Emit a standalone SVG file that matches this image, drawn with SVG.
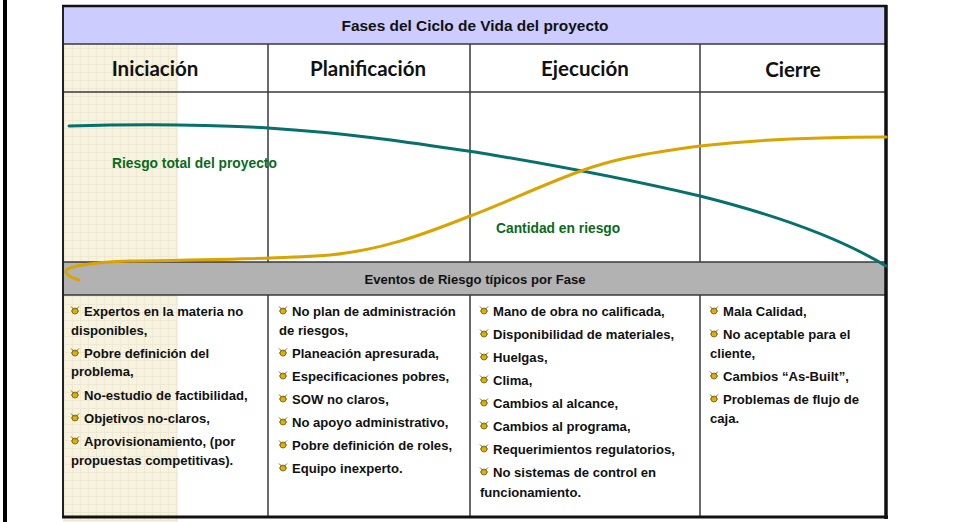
<svg xmlns="http://www.w3.org/2000/svg" width="956" height="522" viewBox="0 0 956 522">
<defs>
<style>
.hdr{font-family:Lato,"Open Sans","Liberation Sans",sans-serif;font-weight:bold;font-size:20.5px;fill:#111;text-anchor:middle}
.ttl{font-family:"Liberation Sans",Arial,sans-serif;font-weight:bold;font-size:15px;fill:#111;text-anchor:middle}
.lbl{font-family:"Liberation Sans",Arial,sans-serif;font-weight:bold;font-size:13.8px;fill:#0A6A1C}
.it{font-family:"Liberation Sans",Arial,sans-serif;font-weight:bold;font-size:13.1px;fill:#111}
.grid{stroke:#3a3a3a;stroke-width:1.5;fill:none}
.curve{fill:none;stroke-width:3;stroke-linecap:round}
</style>
<pattern id="tex" width="8" height="8" patternUnits="userSpaceOnUse">
<rect width="8" height="8" fill="#F8F3DE"/>
<path d="M0 0.5H8M0.5 0V8" stroke="#EEE9D5" stroke-width="1"/>
</pattern>
<symbol id="bul" viewBox="0 0 10 10">
<circle cx="5" cy="6" r="3" fill="#E2B000" stroke="#6b5a10" stroke-width="0.8"/>
<path d="M1 1.5L4 4.5M9 1.5L6 4.5M1 6H2M8 6H9" stroke="#6b5a10" stroke-width="0.9"/>
</symbol>
</defs>
<rect width="956" height="522" fill="#ffffff"/>
<rect x="3" y="0" width="4" height="522" fill="#000"/>

<g id="texture">
<rect x="63" y="44" width="115" height="478" fill="url(#tex)"/>
</g>

<g id="title">
<rect x="63" y="6" width="823" height="38" fill="#CCCCFF"/>
<text class="ttl" x="475" y="31" textLength="267" lengthAdjust="spacingAndGlyphs">Fases del Ciclo de Vida del proyecto</text>
</g>

<g id="phase-headers">
<text class="hdr" x="155" y="76">Iniciación</text>
<text class="hdr" x="368" y="76">Planificación</text>
<text class="hdr" x="585" y="76">Ejecución</text>
<text class="hdr" x="793" y="77">Cierre</text>
</g>

<g id="events-band">
<rect x="63" y="262" width="823" height="33" fill="#B2B2B2"/>
<text class="ttl" x="475" y="284" style="font-size:13px" textLength="221" lengthAdjust="spacingAndGlyphs">Eventos de Riesgo típicos por Fase</text>
</g>

<g id="grid">
<path class="grid" d="M63 44H886M63 92H886M63 262H886M63 295H886"/>
<path class="grid" d="M268 44V262M470 44V262M700 44V262M268 295V517M470 295V517M700 295V517"/>
<path d="M63 6V517" stroke="#222" stroke-width="2" fill="none"/>
<path d="M62 6H887" stroke="#111" stroke-width="2.5" fill="none"/>
<path d="M886 5V519" stroke="#111" stroke-width="3.5" fill="none"/>
<path d="M62 517H888" stroke="#111" stroke-width="3" fill="none"/>
</g>

<g id="connectors">
<path id="riesgo-total" class="curve" stroke="#05706C" d="M69 126C140 124 200 124 268 128C360 134 420 144 475 152C560 166 640 182 700 196C780 216 840 238 886 266"/>
<path id="cantidad" class="curve" stroke="#D9A300" d="M886 137C820 137 760 139 700 146C640 154 610 160 578 172C540 186 500 205 470 216C420 236 380 250 330 255C280 259 200 260 130 261C95 262 68 266 66 271C65 275 72 278 79 280"/>
</g>

<g id="chart-labels">
<text class="lbl" x="112" y="168">Riesgo total del proyecto</text>
<text class="lbl" x="496" y="233">Cantidad en riesgo</text>
</g>

<g id="col-iniciacion">
<use href="#bul" x="70" y="305" width="10" height="10"/><text class="it" x="84" y="316">Expertos en la materia no</text>
<text class="it" x="71" y="335">disponibles,</text>
<use href="#bul" x="70" y="347" width="10" height="10"/><text class="it" x="84" y="358">Pobre definición del</text>
<text class="it" x="71" y="376">problema,</text>
<use href="#bul" x="70" y="389" width="10" height="10"/><text class="it" x="84" y="400">No-estudio de factibilidad,</text>
<use href="#bul" x="70" y="412" width="10" height="10"/><text class="it" x="84" y="423">Objetivos no-claros,</text>
<use href="#bul" x="70" y="435" width="10" height="10"/><text class="it" x="84" y="446">Aprovisionamiento, (por</text>
<text class="it" x="71" y="465">propuestas competitivas).</text>
</g>

<g id="col-planificacion">
<use href="#bul" x="278" y="305" width="10" height="10"/><text class="it" x="292" y="316">No plan de administración</text>
<text class="it" x="279" y="335">de riesgos,</text>
<use href="#bul" x="278" y="347" width="10" height="10"/><text class="it" x="292" y="358">Planeación apresurada,</text>
<use href="#bul" x="278" y="370" width="10" height="10"/><text class="it" x="292" y="381">Especificaciones pobres,</text>
<use href="#bul" x="278" y="393" width="10" height="10"/><text class="it" x="292" y="404">SOW no claros,</text>
<use href="#bul" x="278" y="416" width="10" height="10"/><text class="it" x="292" y="427">No apoyo administrativo,</text>
<use href="#bul" x="278" y="439" width="10" height="10"/><text class="it" x="292" y="450">Pobre definición de roles,</text>
<use href="#bul" x="278" y="462" width="10" height="10"/><text class="it" x="292" y="473">Equipo inexperto.</text>
</g>

<g id="col-ejecucion">
<use href="#bul" x="479" y="305" width="10" height="10"/><text class="it" x="493" y="316">Mano de obra no calificada,</text>
<use href="#bul" x="479" y="328" width="10" height="10"/><text class="it" x="493" y="339">Disponibilidad de materiales,</text>
<use href="#bul" x="479" y="351" width="10" height="10"/><text class="it" x="493" y="362">Huelgas,</text>
<use href="#bul" x="479" y="374" width="10" height="10"/><text class="it" x="493" y="385">Clima,</text>
<use href="#bul" x="479" y="397" width="10" height="10"/><text class="it" x="493" y="408">Cambios al alcance,</text>
<use href="#bul" x="479" y="420" width="10" height="10"/><text class="it" x="493" y="431">Cambios al programa,</text>
<use href="#bul" x="479" y="443" width="10" height="10"/><text class="it" x="493" y="454">Requerimientos regulatorios,</text>
<use href="#bul" x="479" y="466" width="10" height="10"/><text class="it" x="493" y="477">No sistemas de control en</text>
<text class="it" x="480" y="497">funcionamiento.</text>
</g>

<g id="col-cierre">
<use href="#bul" x="709" y="305" width="10" height="10"/><text class="it" x="723" y="316">Mala Calidad,</text>
<use href="#bul" x="709" y="328" width="10" height="10"/><text class="it" x="723" y="339">No aceptable para el</text>
<text class="it" x="710" y="358">cliente,</text>
<use href="#bul" x="709" y="370" width="10" height="10"/><text class="it" x="723" y="381">Cambios “As-Built”,</text>
<use href="#bul" x="709" y="393" width="10" height="10"/><text class="it" x="723" y="404">Problemas de flujo de</text>
<text class="it" x="710" y="423">caja.</text>
</g>
</svg>
